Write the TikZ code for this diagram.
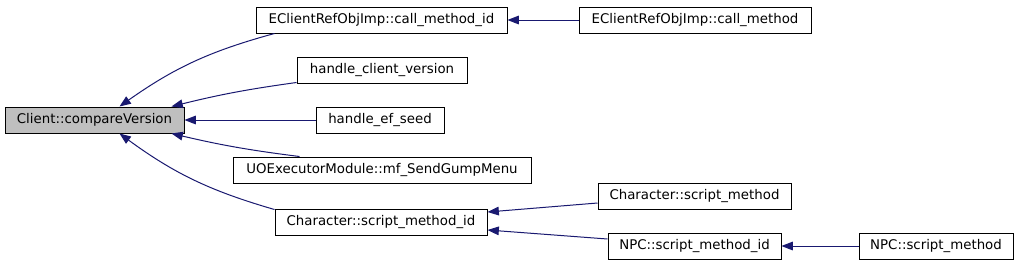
\documentclass[tikz,border=0pt]{standalone}
\usepackage{fontspec}
\setmainfont{DejaVu Sans}
\usetikzlibrary{positioning, arrows.meta, calc}
\definecolor{callB}{HTML}{191970}
\definecolor{selG}{HTML}{BFBFBF}

\begin{document}
\begin{tikzpicture}[x=0.75pt, y=-0.75pt, font=\fontsize{10pt}{12pt}\selectfont,
  fn/.style={draw=black, line width=0.75pt, inner sep=0pt, minimum height=19.5pt},
  call/.style={callB, line width=0.75pt, -{Triangle[length=8.5pt,width=6.5pt]}}]
  \useasboundingbox (0,0) rectangle (1019,265);
  % the function itself
  \node[fn, fill=selG, minimum width=134.25pt] (cmp) at (94.5,120) {Client::compareVersion};
  % its callers, and theirs
  \foreach \nm/\x/\y/\w/\txt in {
      callmid/381.5/20/251/EClientRefObjImp::call\_method\_id,
      callm/695/20/232/EClientRefObjImp::call\_method,
      hcv/382/70/170/handle\_client\_version,
      hefs/380/120/128/handle\_ef\_seed,
      gump/382/170/298/UOExecutorModule::mf\_SendGumpMenu,
      csmid/381/222/212/Character::script\_method\_id,
      csm/694.5/196/193/Character::script\_method,
      nsmid/694.5/246/173/NPC::script\_method\_id,
      nsm/936/246/154/NPC::script\_method}{
    \node[fn, minimum width=\w*0.75pt] (\nm) at (\x,\y) {\txt};
  }
  % calls into compareVersion
  \draw[call] ($(callmid.south west)+(19,0)$) to[bend right=10] ($(cmp.north west)+(115,0)$);
  \draw[call] ($(hcv.south west)+(0,-1)$) to[bend right=3] ($(cmp.north west)+(167,0)$);
  \draw[call] (hefs.west) -- (cmp.east);
  \draw[call] ($(gump.north west)+(67,0)$) to[bend left=3] ($(cmp.south west)+(167,0)$);
  \draw[call] ($(csmid.north west)+(0,1)$) to[bend left=10] ($(cmp.south west)+(115,0)$);
  % second level
  \draw[call] (callm.west) -- (callmid.east);
  \draw[call] ($(csm.west)+(0,7)$) -- ($(csmid.east)+(0,-10)$);
  \draw[call] ($(nsmid.west)+(0,-7)$) -- ($(csmid.east)+(0,8)$);
  \draw[call] (nsm.west) -- (nsmid.east);
\end{tikzpicture}
\end{document}
